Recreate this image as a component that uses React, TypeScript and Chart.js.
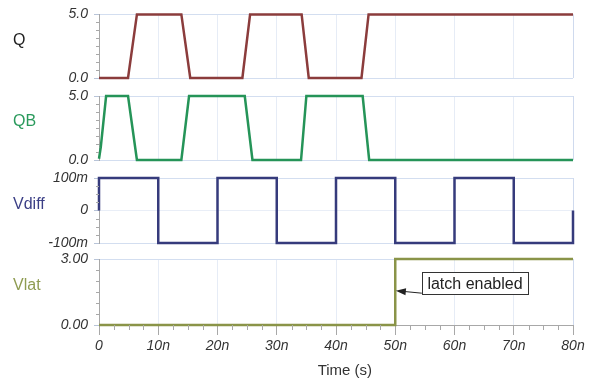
import React, { useEffect, useRef } from "react";
import { Chart, registerables } from "chart.js";

Chart.register(...registerables);

// ---------------- data ----------------
const xTickValues = [0, 10, 20, 30, 40, 50, 60, 70, 80];
const xTickLabels = ["0", "10n", "20n", "30n", "40n", "50n", "60n", "70n", "80n"];
const xTitle = "Time (s)";

const qTime = [0, 4.9, 6.4, 13.9, 15.4, 24.2, 25.5, 34.2, 35.4, 44.3, 45.5, 80];
const qValues = [0, 0, 5, 5, 0, 0, 5, 5, 0, 0, 5, 5];

const qbTime = [0, 0.3, 1.2, 4.9, 6.4, 13.9, 15.2, 24.6, 25.9, 34.1, 35.0, 44.5, 45.6, 80];
const qbValues = [0.1, 1.0, 5, 5, 0, 0, 5, 5, 0, 0, 5, 5, 0, 0];

const vdiffTime = [0, 0, 10, 10, 20, 20, 30, 30, 40, 40, 50, 50, 60, 60, 70, 70, 80, 80];
const vdiffValues = [0, 0.1, 0.1, -0.1, -0.1, 0.1, 0.1, -0.1, -0.1, 0.1, 0.1, -0.1, -0.1, 0.1, 0.1, -0.1, -0.1, 0];

const vlatTime = [0, 50, 50, 80];
const vlatValues = [0, 0, 3, 3];

const qTicks = [0, 5];
const qTickLabels = ["0.0", "5.0"];
const qbTicks = [0, 5];
const qbTickLabels = ["0.0", "5.0"];
const vdiffTicks = [-0.1, 0, 0.1];
const vdiffTickLabels = ["-100m", "0", "100m"];
const vlatTicks = [0, 3];
const vlatTickLabels = ["0.00", "3.00"];

const annotationText = "latch enabled";
const annotationTarget = { x: 50.1, y: 1.56 };
const annotationBox = { x: 54.5, y: 1.9 };

// ---------------- layout / style ----------------
const W = 596;
const H = 379;
const PLOT_LEFT = 99;
const PLOT_RIGHT = 573;
const FONT = "'Liberation Sans', Arial, Helvetica, sans-serif";

type Panel = {
  label: string;
  labelColor: string;
  color: string;
  time: number[];
  values: number[];
  ticks: number[];
  tickLabels: string[];
  minorDiv: number;
  top: number;
  bottom: number;
  last?: boolean;
  annotate?: boolean;
};

const panels: Panel[] = [
  { label: "Q", labelColor: "#1e1e1e", color: "#8b3c3c", time: qTime, values: qValues, ticks: qTicks, tickLabels: qTickLabels, minorDiv: 8, top: 13, bottom: 78 },
  { label: "QB", labelColor: "#2a9a5c", color: "#259458", time: qbTime, values: qbValues, ticks: qbTicks, tickLabels: qbTickLabels, minorDiv: 8, top: 96, bottom: 160 },
  { label: "Vdiff", labelColor: "#3b3f86", color: "#363b7c", time: vdiffTime, values: vdiffValues, ticks: vdiffTicks, tickLabels: vdiffTickLabels, minorDiv: 4, top: 178, bottom: 243 },
  { label: "Vlat", labelColor: "#8f9c52", color: "#8a9448", time: vlatTime, values: vlatValues, ticks: vlatTicks, tickLabels: vlatTickLabels, minorDiv: 6, top: 259, bottom: 325, last: true, annotate: true },
];

const panelPlugin = {
  id: "panelDecor",
  afterDatasetsDraw(chart: any, _args: any, opts: any) {
    const p: Panel = opts.panel;
    const ctx = chart.ctx;
    const { left, top, bottom } = chart.chartArea;
    const y = chart.scales.y;
    const x = chart.scales.x;
    ctx.save();
    // minor ticks on left axis
    ctx.strokeStyle = "#a8a8a8";
    ctx.lineWidth = 1;
    const majors = p.ticks;
    for (let k = 0; k < majors.length - 1; k++) {
      const a = majors[k];
      const b = majors[k + 1];
      for (let j = 1; j < p.minorDiv; j++) {
        const v = a + ((b - a) * j) / p.minorDiv;
        const py = Math.round(y.getPixelForValue(v)) + 0.5;
        ctx.beginPath();
        ctx.moveTo(left - 3, py);
        ctx.lineTo(left, py);
        ctx.stroke();
      }
    }
    // minor ticks on bottom axis + axis title
    if (p.last) {
      for (let k = 0; k < xTickValues.length - 1; k++) {
        const a = xTickValues[k];
        const b = xTickValues[k + 1];
        for (let j = 1; j < 4; j++) {
          const v = a + ((b - a) * j) / 4;
          const px = Math.round(x.getPixelForValue(v)) + 0.5;
          ctx.beginPath();
          ctx.moveTo(px, bottom);
          ctx.lineTo(px, bottom + 5);
          ctx.stroke();
        }
      }
      ctx.fillStyle = "#333";
      ctx.font = `15px ${FONT}`;
      ctx.textAlign = "center";
      ctx.textBaseline = "middle";
      ctx.fillText(xTitle, x.getPixelForValue(41.5), bottom + 46);
    }
    // panel label
    ctx.fillStyle = p.labelColor;
    ctx.font = `16px ${FONT}`;
    ctx.textAlign = "left";
    ctx.textBaseline = "middle";
    ctx.fillText(p.label, 13, (top + bottom) / 2 - 6);

    // annotation
    if (p.annotate) {
      const tx = x.getPixelForValue(annotationTarget.x);
      const ty = y.getPixelForValue(annotationTarget.y);
      const bx = x.getPixelForValue(annotationBox.x);
      const bcy = y.getPixelForValue(annotationBox.y);
      ctx.font = `16px ${FONT}`;
      const tw = ctx.measureText(annotationText).width;
      const bw = tw + 11;
      const bh = 22;
      const btop = bcy - bh / 2;
      const sx = bx;
      const sy = btop + bh - 1;
      const ang = Math.atan2(ty - sy, tx - sx);
      ctx.strokeStyle = "#222";
      ctx.fillStyle = "#222";
      ctx.lineWidth = 1;
      ctx.beginPath();
      ctx.moveTo(sx, sy);
      ctx.lineTo(tx - Math.cos(ang) * 8, ty - Math.sin(ang) * 8);
      ctx.stroke();
      ctx.beginPath();
      ctx.moveTo(tx, ty);
      ctx.lineTo(tx - 10 * Math.cos(ang) + 3.5 * Math.sin(ang), ty - 10 * Math.sin(ang) - 3.5 * Math.cos(ang));
      ctx.lineTo(tx - 10 * Math.cos(ang) - 3.5 * Math.sin(ang), ty - 10 * Math.sin(ang) + 3.5 * Math.cos(ang));
      ctx.closePath();
      ctx.fill();
      ctx.fillStyle = "#ffffff";
      ctx.fillRect(bx, btop, bw, bh);
      ctx.strokeStyle = "#333";
      ctx.strokeRect(Math.round(bx) + 0.5, Math.round(btop) + 0.5, Math.round(bw), bh);
      ctx.fillStyle = "#222";
      ctx.textAlign = "left";
      ctx.textBaseline = "middle";
      ctx.fillText(annotationText, bx + 5.5, bcy + 1);
    }
    ctx.restore();
  },
};

function buildConfig(p: Panel): any {
  const last = !!p.last;
  return {
    type: "line",
    data: {
      datasets: [
        {
          data: p.time.map((t, i) => ({ x: t, y: p.values[i] })),
          borderColor: p.color,
          borderWidth: 2.5,
          pointRadius: 0,
          tension: 0,
          fill: false,
          clip: 4,
        },
      ],
    },
    options: {
      animation: false,
      responsive: false,
      maintainAspectRatio: false,
      layout: {
        padding: { left: 0, right: W - PLOT_RIGHT, top: p.top, bottom: last ? 0 : H - p.bottom },
      },
      plugins: {
        legend: { display: false },
        tooltip: { enabled: false },
        panelDecor: { panel: p },
      },
      scales: {
        x: {
          type: "linear",
          min: 0,
          max: 80,
          afterBuildTicks: (s: any) => {
            s.ticks = xTickValues.map((v) => ({ value: v }));
          },
          afterFit: (s: any) => {
            s.height = last ? H - p.bottom : 0;
          },
          ticks: {
            display: last,
            autoSkip: false,
            maxRotation: 0,
            padding: 3,
            color: "#333",
            font: { family: FONT, size: 14, style: "italic" },
            callback: (v: number) => xTickLabels[xTickValues.indexOf(v)] ?? "",
          },
          grid: {
            color: (c: any) => (c.tick && c.tick.value === 80 ? "#cfdaee" : "#e6ecf6"),
            lineWidth: 1,
            drawTicks: last,
            tickLength: 10,
            tickColor: "#a8a8a8",
          },
          border: { display: last, color: "#a8a8a8" },
          title: { display: false },
        },
        y: {
          type: "linear",
          min: p.ticks[0],
          max: p.ticks[p.ticks.length - 1],
          afterBuildTicks: (s: any) => {
            s.ticks = p.ticks.map((v) => ({ value: v }));
          },
          afterFit: (s: any) => {
            s.width = PLOT_LEFT;
          },
          ticks: {
            padding: 6,
            color: "#333",
            font: { family: FONT, size: 14, style: "italic" },
            callback: (v: number) => {
              const i = p.ticks.findIndex((t) => Math.abs(t - v) < 1e-9);
              return i >= 0 ? p.tickLabels[i] : "";
            },
          },
          grid: {
            color: (c: any) => (c.tick && Math.abs(c.tick.value) < 1e-9 && p.ticks.length > 2 ? "#e9eef7" : "#d3def0"),
            lineWidth: 1,
            tickLength: 5,
            tickColor: "#b8c4d8",
          },
          border: { display: true, color: "#a8a8a8" },
        },
      },
    },
    plugins: [panelPlugin],
  };
}

function PanelCanvas({ p }: { p: Panel }) {
  const ref = useRef<HTMLCanvasElement | null>(null);
  useEffect(() => {
    if (!ref.current) return;
    const chart = new Chart(ref.current, buildConfig(p));
    return () => chart.destroy();
  }, [p]);
  return (
    <canvas
      ref={ref}
      width={W}
      height={H}
      style={{ position: "absolute", left: 0, top: 0, width: W, height: H }}
    />
  );
}

export default function App() {
  return (
    <div style={{ position: "absolute", left: 0, top: 0, width: W, height: H, background: "#fff", overflow: "hidden" }}>
      {panels.map((p) => (
        <PanelCanvas key={p.label} p={p} />
      ))}
    </div>
  );
}
